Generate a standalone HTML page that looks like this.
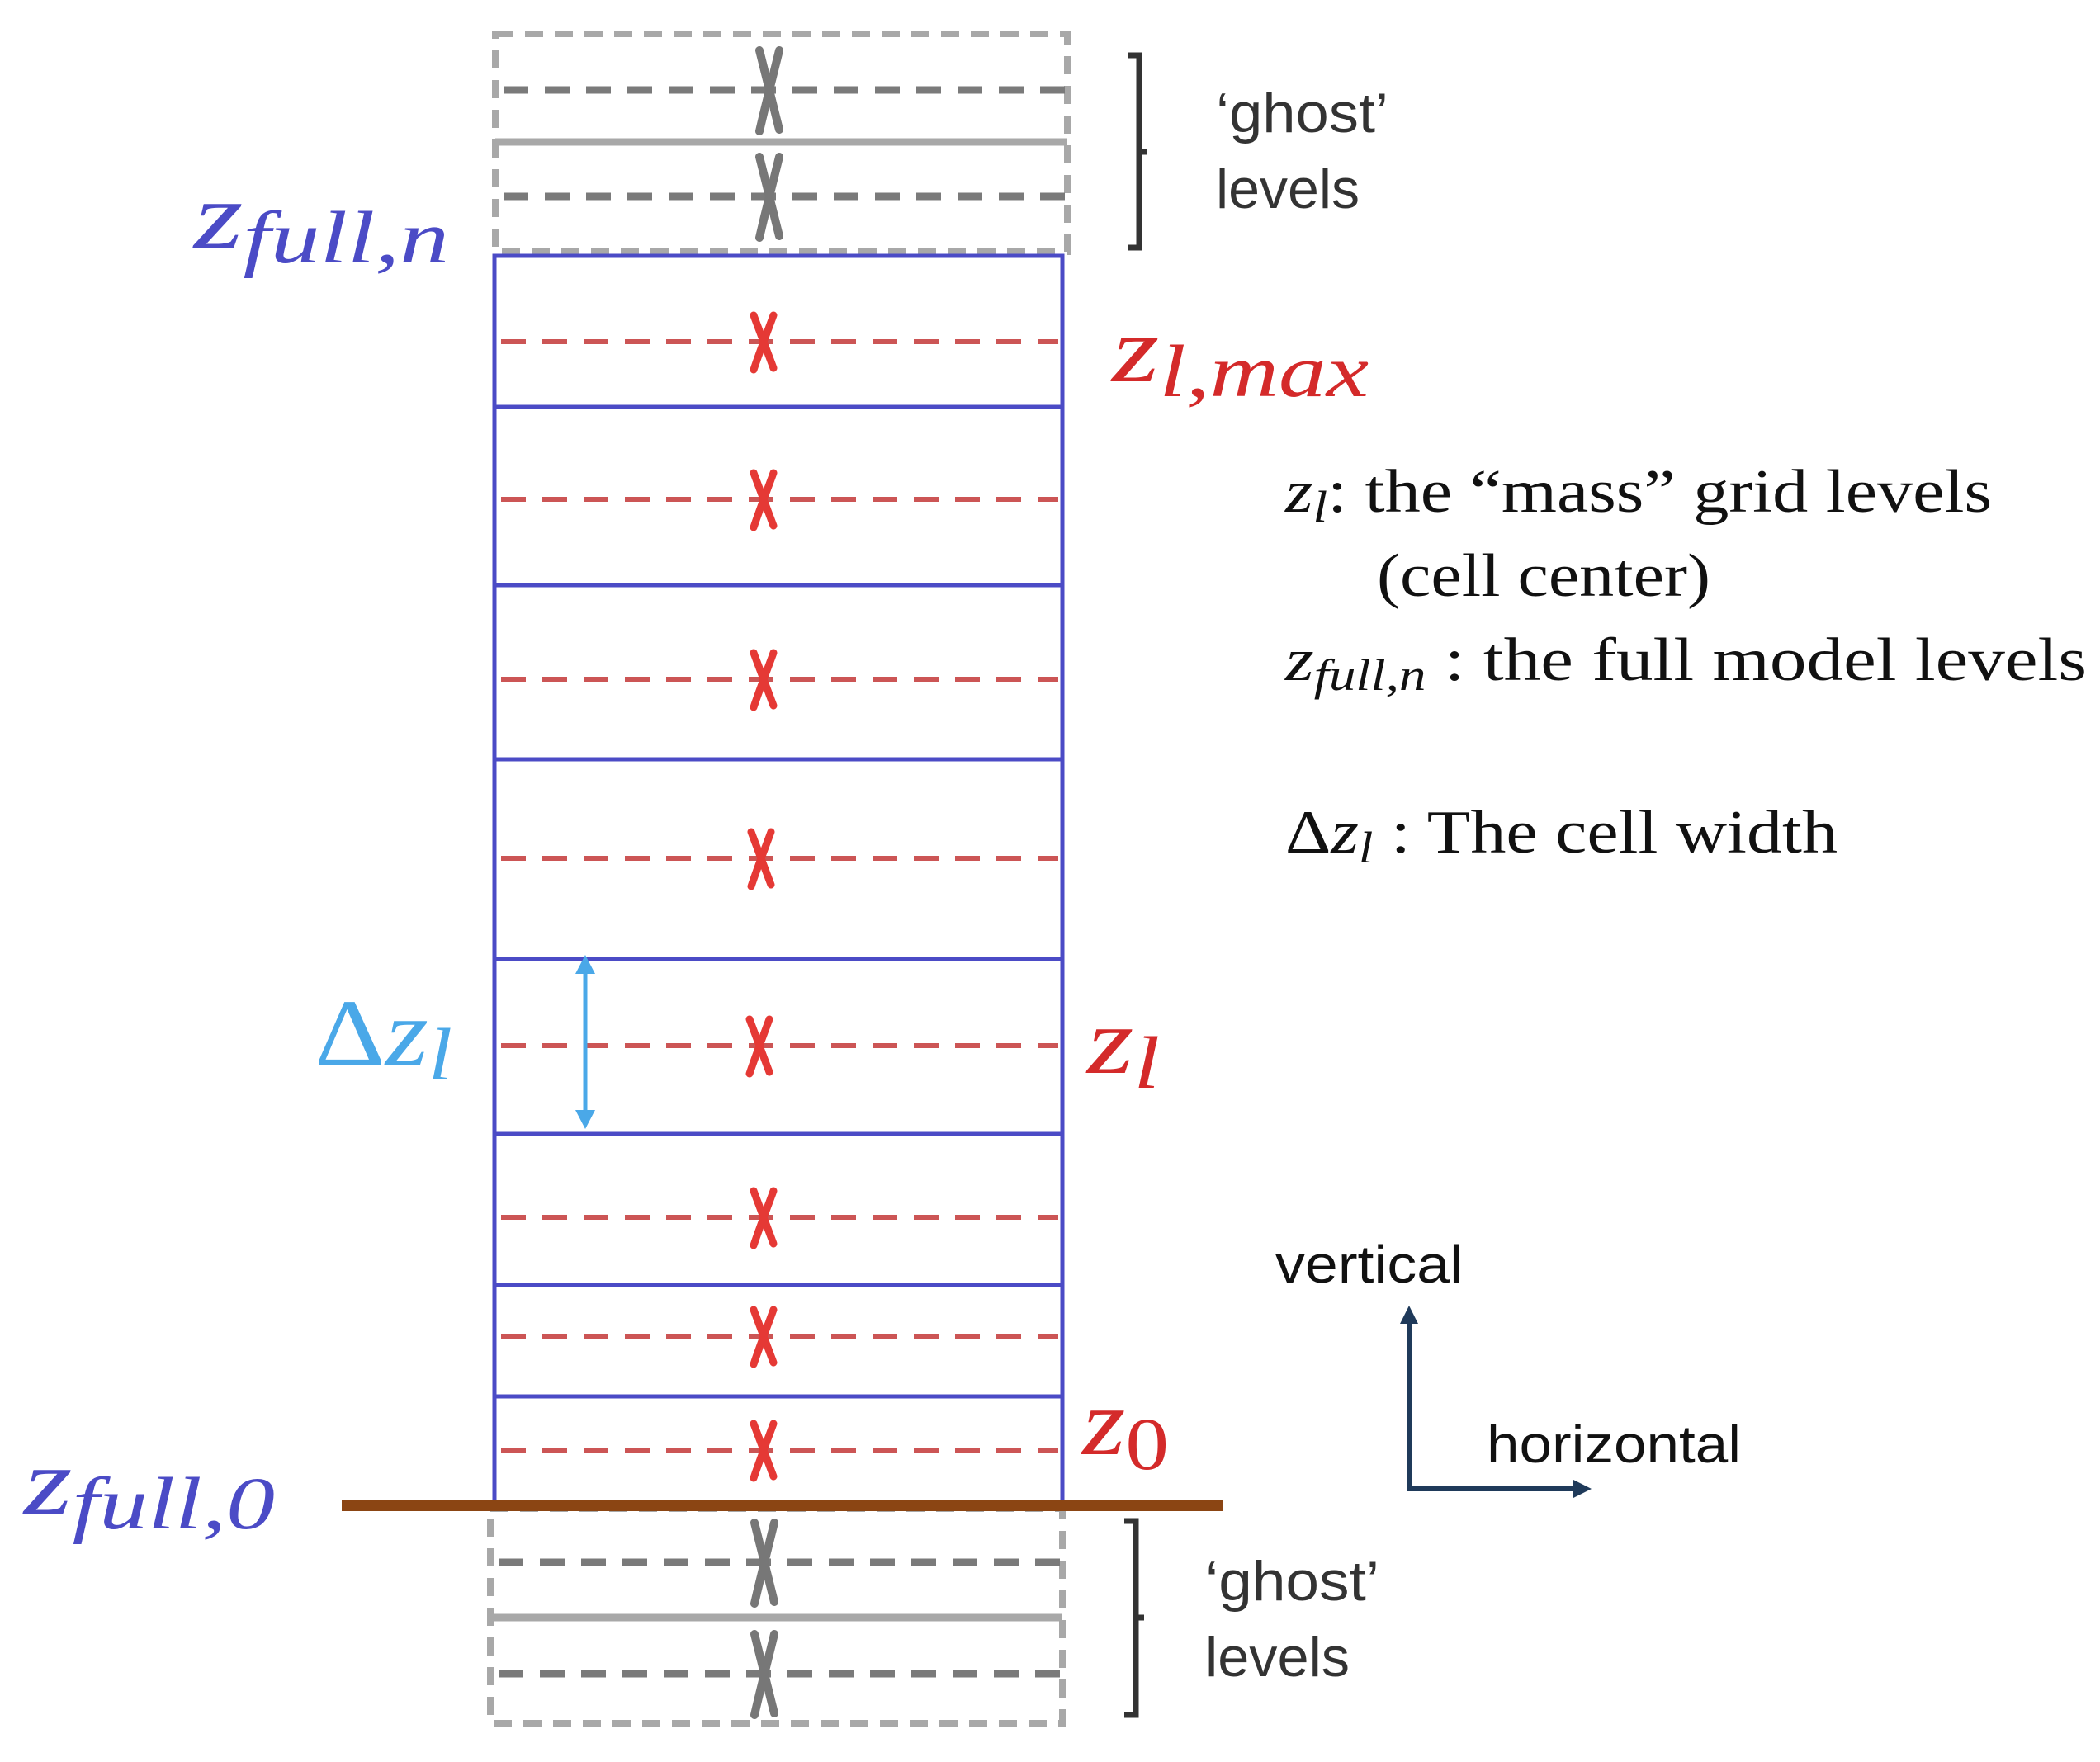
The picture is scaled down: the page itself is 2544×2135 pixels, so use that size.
<!DOCTYPE html>
<html><head><meta charset="utf-8"><style>html,body{margin:0;padding:0;background:#fff}</style></head>
<body>
<svg width="2544" height="2130" viewBox="0 0 2544 2130" xmlns="http://www.w3.org/2000/svg">
<defs>
<g id="xr"><path d="M-12,-32 L12,32 M12,-32 C4,-10 -4,10 -12,34" stroke="#e53935" stroke-width="9" fill="none" stroke-linecap="round"/></g>
<g id="xg"><path d="M-12,-48 L12,48 M12,-48 C4,-15 -4,15 -12,50" stroke="#777" stroke-width="10" fill="none" stroke-linecap="round"/></g>
</defs>
<!-- top ghost -->
<rect x="600" y="41" width="693" height="264" fill="none" stroke="#a8a8a8" stroke-width="8" stroke-dasharray="22,14"/>
<line x1="600" y1="172" x2="1293" y2="172" stroke="#a8a8a8" stroke-width="9"/>
<line x1="610" y1="109" x2="1293" y2="109" stroke="#7a7a7a" stroke-width="9" stroke-dasharray="30,20"/>
<line x1="610" y1="238" x2="1293" y2="238" stroke="#7a7a7a" stroke-width="9" stroke-dasharray="30,20"/>
<use href="#xg" x="932" y="109"/><use href="#xg" x="932" y="238"/>
<!-- bottom ghost -->
<rect x="594" y="1828" width="693" height="260" fill="none" stroke="#a8a8a8" stroke-width="8" stroke-dasharray="22,14"/>
<line x1="594" y1="1960" x2="1287" y2="1960" stroke="#a8a8a8" stroke-width="9"/>
<line x1="604" y1="1893" x2="1287" y2="1893" stroke="#7a7a7a" stroke-width="9" stroke-dasharray="30,20"/>
<line x1="604" y1="2028" x2="1287" y2="2028" stroke="#7a7a7a" stroke-width="9" stroke-dasharray="30,20"/>
<use href="#xg" x="926" y="1893"/><use href="#xg" x="926" y="2028"/>
<!-- blue column -->
<rect x="599" y="310" width="688" height="1512" fill="none" stroke="#4b4bc6" stroke-width="5"/>
<g stroke="#4b4bc6" stroke-width="5">
<line x1="599" y1="493" x2="1287" y2="493"/><line x1="599" y1="709" x2="1287" y2="709"/>
<line x1="599" y1="920" x2="1287" y2="920"/><line x1="599" y1="1162" x2="1287" y2="1162"/>
<line x1="599" y1="1374" x2="1287" y2="1374"/><line x1="599" y1="1557" x2="1287" y2="1557"/>
<line x1="599" y1="1692" x2="1287" y2="1692"/>
</g>
<g stroke="#cc5555" stroke-width="6" stroke-dasharray="30,20">
<line x1="607" y1="414" x2="1282" y2="414"/><line x1="607" y1="605" x2="1282" y2="605"/>
<line x1="607" y1="823" x2="1282" y2="823"/><line x1="607" y1="1040" x2="1282" y2="1040"/>
<line x1="607" y1="1267" x2="1282" y2="1267"/><line x1="607" y1="1475" x2="1282" y2="1475"/>
<line x1="607" y1="1619" x2="1282" y2="1619"/><line x1="607" y1="1757" x2="1282" y2="1757"/>
</g>
<use href="#xr" x="925" y="414"/><use href="#xr" x="925" y="605"/><use href="#xr" x="925" y="823"/>
<use href="#xr" x="922" y="1040"/><use href="#xr" x="920" y="1267"/><use href="#xr" x="925" y="1475"/>
<use href="#xr" x="925" y="1619"/><use href="#xr" x="925" y="1757"/>
<!-- ground -->
<line x1="414" y1="1824" x2="1481" y2="1824" stroke="#8b4513" stroke-width="14"/>
<!-- delta arrow -->
<line x1="709" y1="1170" x2="709" y2="1356" stroke="#4aa8e8" stroke-width="5"/>
<path d="M697,1180 L709,1157 L721,1180 Z M697,1345 L709,1368 L721,1345 Z" fill="#4aa8e8"/>
<!-- brackets -->
<path d="M1366,67 L1380,67 L1380,300 L1366,300 M1380,184 L1390,184" stroke="#333" stroke-width="7" fill="none"/>
<path d="M1362,1843 L1376,1843 L1376,2078 L1362,2078 M1376,1960 L1386,1960" stroke="#333" stroke-width="7" fill="none"/>
<g font-family="Liberation Sans, sans-serif" font-size="68" fill="#333" lengthAdjust="spacingAndGlyphs">
<text x="1473" y="160" textLength="209" lengthAdjust="spacingAndGlyphs">‘ghost’</text>
<text x="1473" y="252" textLength="174" lengthAdjust="spacingAndGlyphs">levels</text>
<text x="1460" y="1939" textLength="211" lengthAdjust="spacingAndGlyphs">‘ghost’</text>
<text x="1460" y="2031" textLength="175" lengthAdjust="spacingAndGlyphs">levels</text>
</g>
<!-- math labels -->
<g font-family="Liberation Serif, serif" font-style="italic">
<text x="235" y="300" font-size="115" fill="#4b4bc6" textLength="309" lengthAdjust="spacingAndGlyphs">z<tspan font-size="90" dy="18">full,n</tspan></text>
<text x="1347" y="462" font-size="115" fill="#d42a2a" textLength="311" lengthAdjust="spacingAndGlyphs">z<tspan font-size="90" dy="18">l,max</tspan></text>
<text x="381" y="1290" font-size="115" fill="#4aa8e8" textLength="167" lengthAdjust="spacingAndGlyphs"><tspan font-style="normal">Δ</tspan>z<tspan font-size="90" dy="18">l</tspan></text>
<text x="1317" y="1300" font-size="115" fill="#d42a2a" textLength="88" lengthAdjust="spacingAndGlyphs">z<tspan font-size="90" dy="18">l</tspan></text>
<text x="1311" y="1762" font-size="115" fill="#d42a2a" textLength="105" lengthAdjust="spacingAndGlyphs">z<tspan font-size="90" dy="18" font-style="normal">0</tspan></text>
<text x="29" y="1834" font-size="115" fill="#4b4bc6" textLength="304" lengthAdjust="spacingAndGlyphs">z<tspan font-size="90" dy="18">full,0</tspan></text>
</g>
<!-- legend -->
<g font-family="Liberation Serif, serif" font-size="74" fill="#111">
<text x="1557" y="620" textLength="856" lengthAdjust="spacingAndGlyphs"><tspan font-style="italic">z</tspan><tspan font-style="italic" font-size="54" dy="12">l</tspan><tspan dy="-12">: the “mass” grid levels</tspan></text>
<text x="1668" y="722" textLength="404" lengthAdjust="spacingAndGlyphs">(cell center)</text>
<text x="1557" y="824" textLength="971" lengthAdjust="spacingAndGlyphs"><tspan font-style="italic">z</tspan><tspan font-style="italic" font-size="54" dy="12">full,n</tspan><tspan dy="-12"> : the full model levels</tspan></text>
<text x="1557" y="1033" textLength="669" lengthAdjust="spacingAndGlyphs">Δ<tspan font-style="italic">z</tspan><tspan font-style="italic" font-size="54" dy="12">l</tspan><tspan dy="-12"> : The cell width</tspan></text>
</g>
<!-- axes -->
<path d="M1707,1600 L1707,1804 L1910,1804" stroke="#1f3a5a" stroke-width="6" fill="none"/>
<path d="M1696,1604 L1707,1582 L1718,1604 Z M1906,1793 L1928,1804 L1906,1815 Z" fill="#1f3a5a"/>
<g font-family="Liberation Sans, sans-serif" font-size="64" fill="#111">
<text x="1545" y="1554" textLength="227" lengthAdjust="spacingAndGlyphs">vertical</text>
<text x="1801" y="1772" textLength="308" lengthAdjust="spacingAndGlyphs">horizontal</text>
</g>
</svg>
</body></html>
